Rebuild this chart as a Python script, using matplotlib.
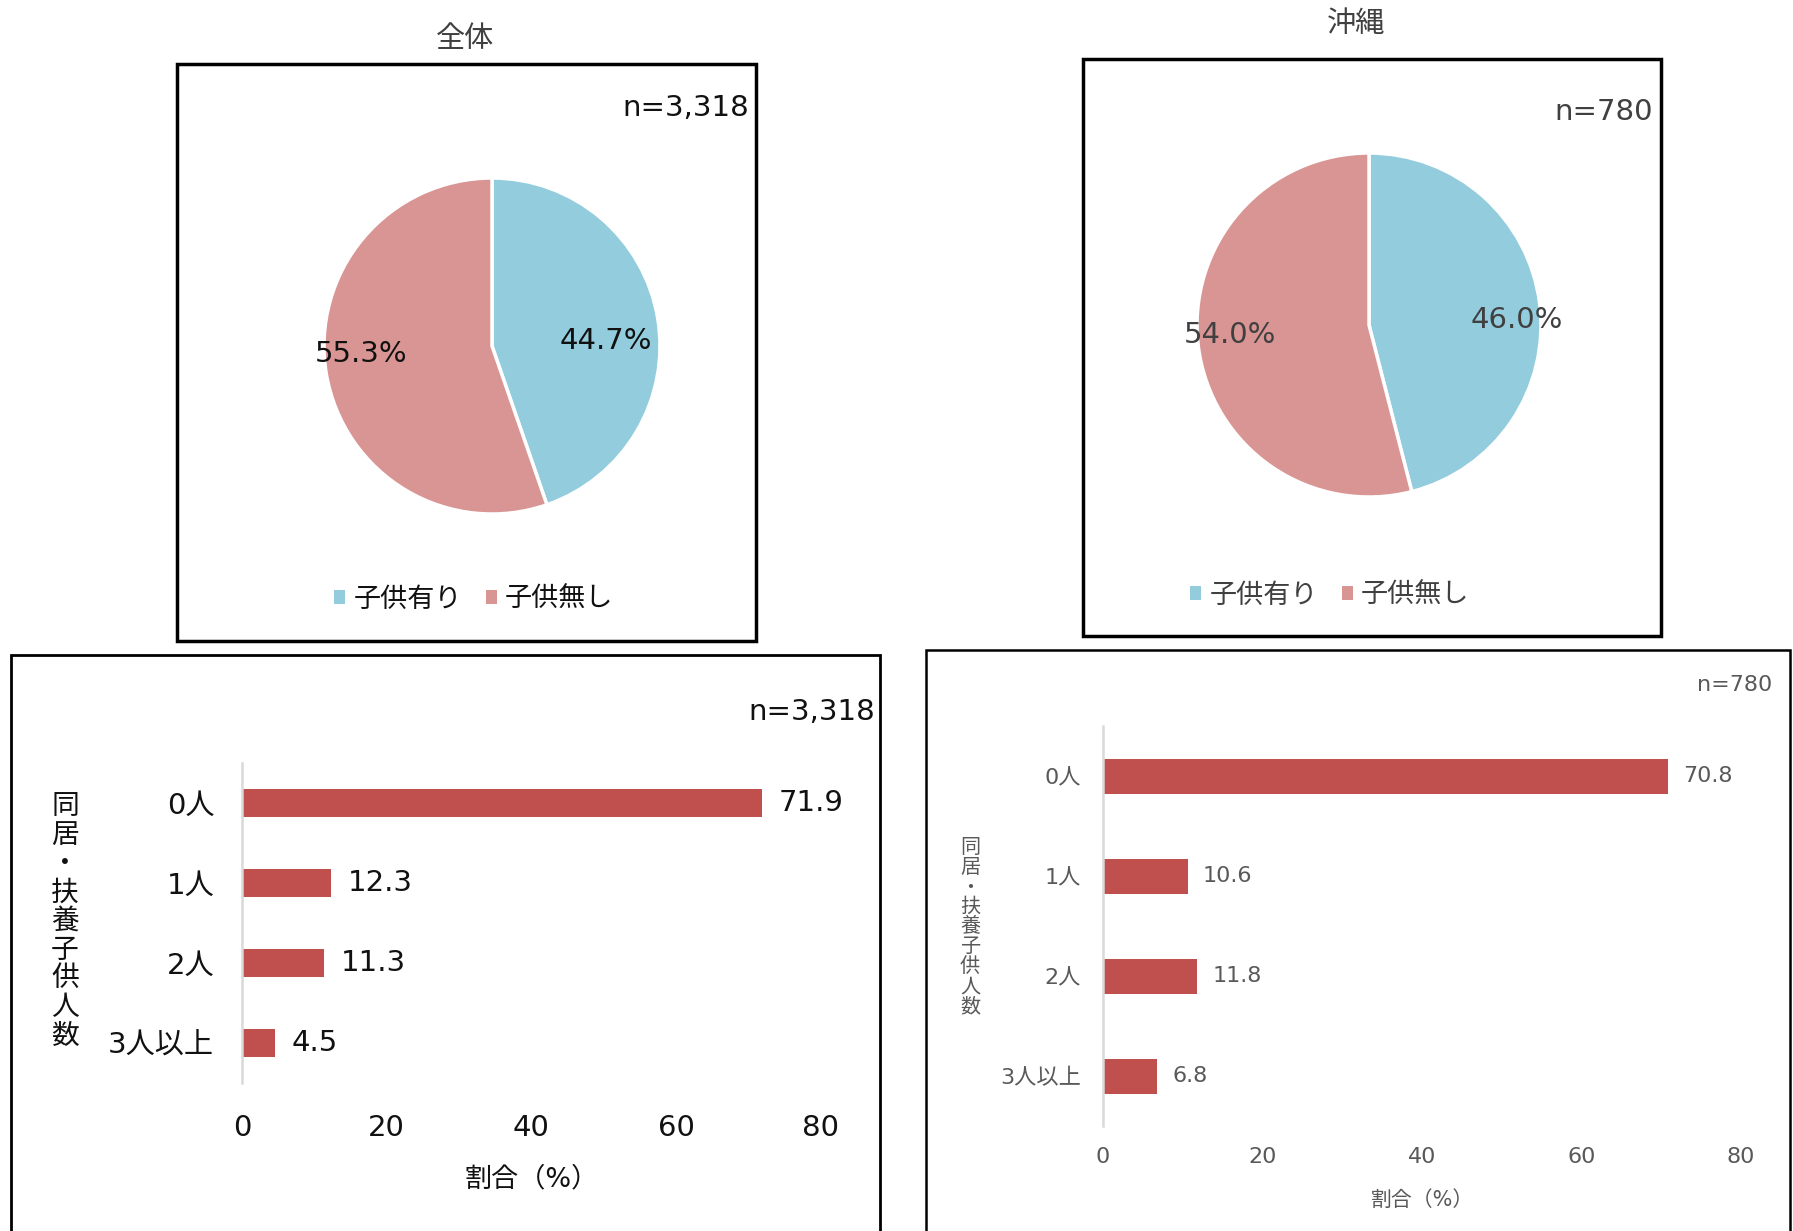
import matplotlib
matplotlib.use("Agg")
import matplotlib.pyplot as plt
from matplotlib.patches import Rectangle, Patch

# Latin glyphs from DejaVu Sans, Japanese glyphs from Noto Sans CJK JP
plt.rcParams['font.family'] = ['DejaVu Sans', 'Noto Sans CJK JP']

# ---- data ----
pie_labels = ['子供有り', '子供無し']
pie_all = [44.7, 55.3]
pie_okinawa = [46.0, 54.0]
n_all = 'n=3,318'
n_okinawa = 'n=780'

bar_categories = ['0人', '1人', '2人', '3人以上']
bar_all = [71.9, 12.3, 11.3, 4.5]
bar_okinawa = [70.8, 10.6, 11.8, 6.8]
x_ticks = [0, 20, 40, 60, 80]

pie_colors = ['#93CDDD', '#D99594']
bar_color = '#C0504D'
ylabel_text = '同居・扶養子供人数'

W, H = 1793, 1231
fig = plt.figure(figsize=(W / 100, H / 100), dpi=100)


def box(x0, y0, x1, y1):
    """Axes rect in figure fraction from pixel corners (top-left origin)."""
    return [x0 / W, 1 - y1 / H, (x1 - x0) / W, (y1 - y0) / H]


def frame(x0, y0, x1, y1, lw=2.5, color='black'):
    fig.patches.append(Rectangle((x0 / W, 1 - y1 / H), (x1 - x0) / W, (y1 - y0) / H,
                                 transform=fig.transFigure, fill=False,
                                 edgecolor=color, linewidth=lw, zorder=5))


def ftext(px, py, s, **kw):
    fig.text(px / W, 1 - py / H, s, **kw)


# ---- panel frames ----
frame(177, 64, 756, 641, lw=2.5)
frame(1083, 59, 1661, 636, lw=2.5)
frame(11, 655, 880, 1240, lw=2.0)
frame(926, 650, 1790, 1240, lw=1.8)


# ---- pies ----
def draw_pie(cx, cy, r, values, label_xy, color, fs):
    ax = fig.add_axes(box(cx - r, cy - r, cx + r, cy + r))
    _, _, autotexts = ax.pie(values, colors=pie_colors, startangle=90, counterclock=False,
                             wedgeprops=dict(edgecolor='white', linewidth=2.5),
                             autopct='%.1f%%',
                             textprops=dict(fontsize=fs, color=color))
    # percentage labels kept near the horizontal midline of each slice
    for t, xy in zip(autotexts, label_xy):
        t.set_position(xy)
    ax.set_xlim(-1, 1)
    ax.set_ylim(-1, 1)
    ax.set_aspect('equal')
    ax.axis('off')
    return ax


draw_pie(492, 346, 168, pie_all, [(0.68, 0.03), (-0.78, -0.05)], '#111111', 21)
draw_pie(1369, 325, 172, pie_okinawa, [(0.86, 0.03), (-0.81, -0.06)], '#404040', 21)

ftext(465, 39, '全体', ha='center', va='center', fontsize=21, color='#404040')
ftext(1356, 24, '沖縄', ha='center', va='center', fontsize=21, color='#404040')
ftext(749, 108, n_all, ha='right', va='center', fontsize=21, color='#111111')
ftext(1653, 112, n_okinawa, ha='right', va='center', fontsize=21, color='#404040')

handles = [Patch(facecolor=c, edgecolor='none') for c in pie_colors]
for (lx, ly, tc) in [(474, 600, '#111111'), (1330, 596, '#404040')]:
    leg = fig.legend(handles, pie_labels, loc='center', bbox_to_anchor=(lx / W, 1 - ly / H),
                     ncol=2, frameon=False, fontsize=19.5, handlelength=0.4,
                     handleheight=0.4, handletextpad=0.3, columnspacing=0.9)
    for t in leg.get_texts():
        t.set_color(tc)


# ---- bar charts ----
def draw_bars(x0, y0, x1, y1, values, fs, color, tick_pad, cat_pad, val_pad, lab_y, lab_fs):
    ax = fig.add_axes(box(x0, y0, x1, y1))
    ypos = list(range(len(bar_categories)))
    bars = ax.barh(ypos, values, height=0.35, color=bar_color)
    ax.set_ylim(len(bar_categories) - 0.5, -0.5)
    ax.set_xlim(x_ticks[0], x_ticks[-1])
    ax.set_xticks(x_ticks)
    ax.set_xticklabels([str(t) for t in x_ticks], fontsize=fs, color=color)
    ax.set_yticks(ypos)
    ax.set_yticklabels(bar_categories, fontsize=fs, color=color)
    ax.tick_params(axis='x', length=0, pad=tick_pad)
    ax.tick_params(axis='y', length=0, pad=cat_pad)
    for s in ['top', 'right', 'bottom']:
        ax.spines[s].set_visible(False)
    ax.spines['left'].set_color('#D9D9D9')
    ax.spines['left'].set_linewidth(1.8)
    ax.bar_label(bars, labels=[f'{v:.1f}' for v in values], padding=val_pad,
                 fontsize=fs, color=color)
    ax.set_xlabel('割合（%）', fontsize=lab_fs, color=color, va='center')
    ax.xaxis.set_label_coords(0.5, 1 - (lab_y - y0) / (y1 - y0))
    return ax


draw_bars(242, 763, 821, 1083, bar_all, 21, '#111111', 22, 20, 12, 1179, 19.5)
draw_bars(1103, 726, 1741, 1126, bar_okinawa, 16, '#595959', 15, 16, 11, 1200, 15)

ftext(875, 712, n_all, ha='right', va='center', fontsize=21, color='#111111')
ftext(1772, 685, n_okinawa, ha='right', va='center', fontsize=16, color='#595959')

ftext(65, 921, '\n'.join(ylabel_text), ha='center', va='center', fontsize=20,
      color='#111111', linespacing=1.03)
ftext(970, 927, '\n'.join(ylabel_text), ha='center', va='center', fontsize=14.5,
      color='#595959', linespacing=1.06)

fig.savefig('out.png', dpi=100, facecolor='white')
